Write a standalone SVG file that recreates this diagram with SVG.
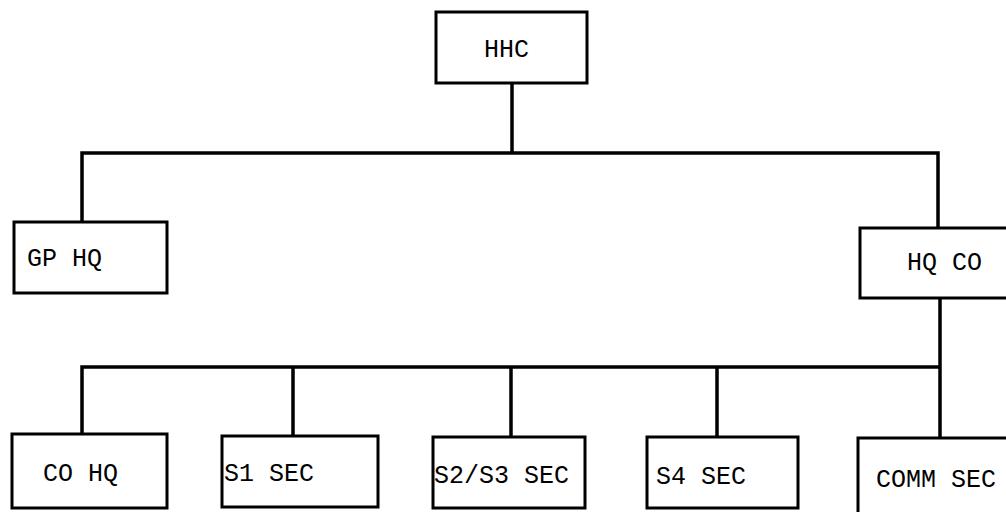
<svg xmlns="http://www.w3.org/2000/svg" width="1006" height="512" viewBox="0 0 1006 512">
<style>
.box{fill:#fff;stroke:#000;stroke-width:3}
.ln{fill:none;stroke:#000;stroke-width:3.5;stroke-linecap:square}
text{font-family:"Liberation Mono","DejaVu Sans Mono",monospace;font-size:25px;fill:#000}
</style>
<rect width="1006" height="512" fill="#fff"/>
<g id="connectors">
<path class="ln" d="M512 83V153M82 153H938M82 153V222M938 153V228"/>
<path class="ln" d="M940 298V437M82 367H940M82 367V434M293 367V436M511 367V437M717 367V437"/>
</g>
<g id="n-hhc"><rect class="box" x="436" y="12" width="151" height="71"/><text x="484" y="57">HHC</text></g>
<g id="n-gphq"><rect class="box" x="14" y="222" width="153" height="71"/><text x="27" y="266">GP HQ</text></g>
<g id="n-hqco"><rect class="box" x="860" y="228" width="160" height="70"/><text x="907" y="270">HQ CO</text></g>
<g id="n-cohq"><rect class="box" x="12" y="434" width="155" height="74"/><text x="43" y="481">CO HQ</text></g>
<g id="n-s1"><rect class="box" x="222" y="436" width="156" height="71"/><text x="224" y="481">S1 SEC</text></g>
<g id="n-s2s3"><rect class="box" x="433" y="437" width="152" height="71"/><text x="434" y="483">S2/S3 SEC</text></g>
<g id="n-s4"><rect class="box" x="647" y="437" width="151" height="71"/><text x="656" y="484">S4 SEC</text></g>
<g id="n-comm"><rect class="box" x="858" y="438" width="170" height="90"/><text x="876" y="487">COMM SEC</text></g>
</svg>
